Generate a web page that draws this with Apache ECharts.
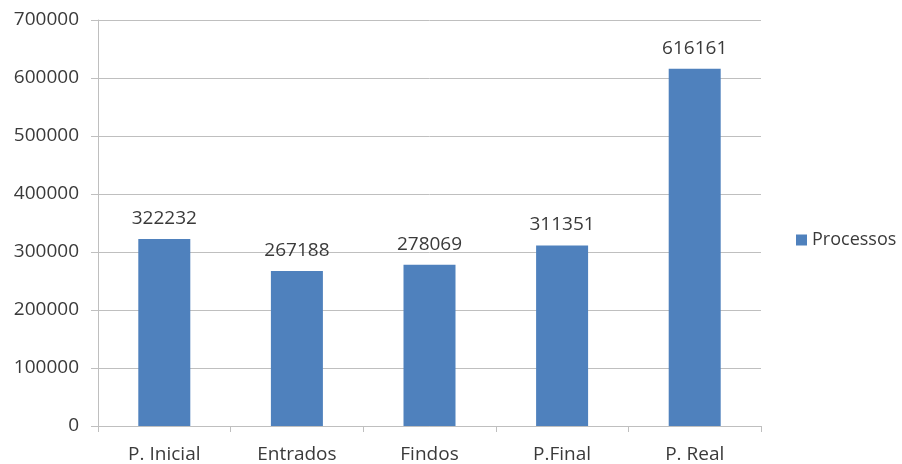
<!DOCTYPE html>
<html><head><meta charset="utf-8">
<script src="https://cdn.jsdelivr.net/npm/echarts@6/dist/echarts.min.js"></script>
<style>html,body{margin:0;padding:0;background:#fff}#c{width:902px;height:464px}</style>
</head><body><div id="c"></div>
<script>
const categories = ['P. Inicial', 'Entrados', 'Findos', 'P.Final', 'P. Real'];
const processos = [322232, 267188, 278069, 311351, 616161];
const yTicks = [0, 100000, 200000, 300000, 400000, 500000, 600000, 700000];

const font = '"Open Sans", "Noto Sans", sans-serif';
const chart = echarts.init(document.getElementById('c'), null, {renderer: 'canvas'});
chart.setOption({
  animation: false,
  textStyle: {fontFamily: font},
  grid: {left: 98, right: 141, top: 20, bottom: 37, containLabel: false},
  legend: {
    data: ['Processos'], orient: 'vertical', left: 796, top: 231, padding: 0,
    itemWidth: 11, itemHeight: 11, itemGap: 5, icon: 'rect',
    textStyle: {fontSize: 18, color: '#3a3a3a', fontFamily: font}
  },
  xAxis: {
    type: 'category', data: categories,
    axisLine: {lineStyle: {color: '#bfbfbf', width: 1}},
    axisTick: {show: true, length: 6, lineStyle: {color: '#bfbfbf'}, alignWithLabel: false},
    axisLabel: {fontSize: 19, color: '#3a3a3a', margin: 19, fontFamily: font}
  },
  yAxis: {
    type: 'value', min: 0, max: 700000, interval: 100000,
    axisLine: {show: true, lineStyle: {color: '#bfbfbf'}},
    axisTick: {show: true, length: 7, lineStyle: {color: '#bfbfbf'}},
    splitLine: {lineStyle: {color: '#bfbfbf'}},
    axisLabel: {fontSize: 19, color: '#3a3a3a', margin: 19, fontFamily: font,
      formatter: v => yTicks.includes(v) ? String(v) : ''}
  },
  series: [{
    name: 'Processos', type: 'bar', data: processos, barWidth: 52,
    itemStyle: {color: '#4f81bd'},
    label: {show: true, position: 'top', distance: 11, fontSize: 19, color: '#3a3a3a', fontFamily: font}
  }]
});
</script></body></html>
